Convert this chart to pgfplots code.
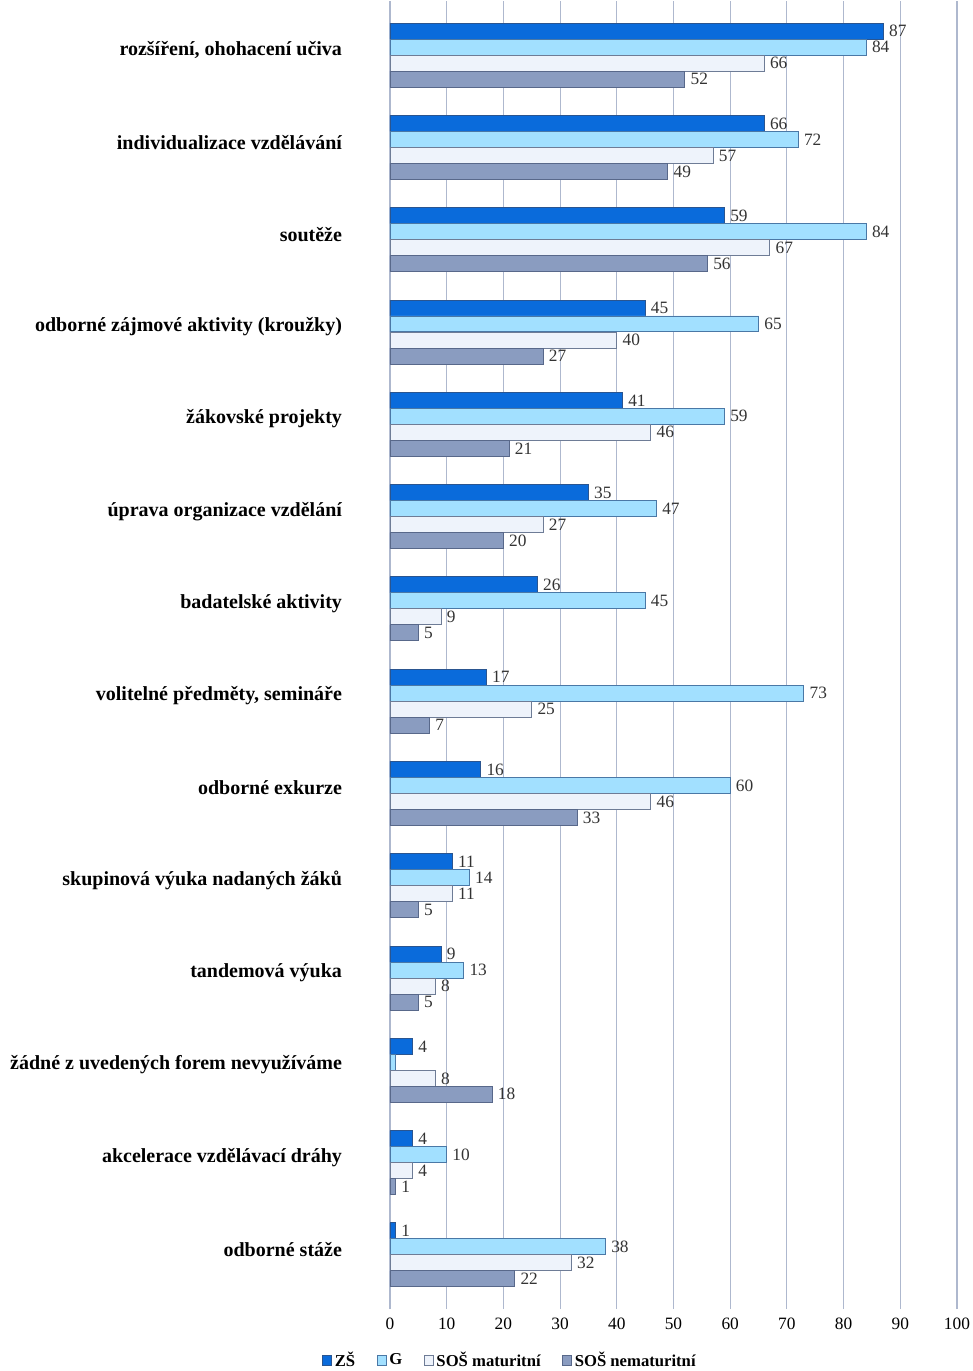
\documentclass[border=0pt]{standalone}
\usepackage{fontspec}
\setmainfont{Liberation Serif}
\usepackage{pgfplots}
\usepackage{pgfplotstable}
\pgfplotsset{compat=1.18}
\definecolor{czs}{HTML}{0A6BDB}
\definecolor{czsd}{HTML}{2A5590}
\definecolor{cg}{HTML}{A2E0FF}
\definecolor{cgd}{HTML}{4A78A6}
\definecolor{cm}{HTML}{EEF3FB}
\definecolor{cmd}{HTML}{6E7C96}
\definecolor{cn}{HTML}{8A9CC0}
\definecolor{cnd}{HTML}{58688A}
\definecolor{gridc}{HTML}{AEB8CE}
\pgfplotstableread{
y x l
0 87 87
1 66 66
2 59 59
3 45 45
4 41 41
5 35 35
6 26 26
7 17 17
8 16 16
9 11 11
10 9 9
11 4 4
12 4 4
13 1 1
}\zs
\pgfplotstableread{
y x l
0 84 84
1 72 72
2 84 84
3 65 65
4 59 59
5 47 47
6 45 45
7 73 73
8 60 60
9 14 14
10 13 13
11 1 {}
12 10 10
13 38 38
}\gy
\pgfplotstableread{
y x l
0 66 66
1 57 57
2 67 67
3 40 40
4 46 46
5 27 27
6 9 9
7 25 25
8 46 46
9 11 11
10 8 8
11 8 8
12 4 4
13 32 32
}\sm
\pgfplotstableread{
y x l
0 52 52
1 49 49
2 56 56
3 27 27
4 21 21
5 20 20
6 5 5
7 7 7
8 33 33
9 5 5
10 5 5
11 18 18
12 1 1
13 22 22
}\sn
\begin{document}
\begin{tikzpicture}
\begin{axis}[
  name=ax,
  xbar,
  scale only axis,
  width=425.25pt, height=969pt,
  xmin=0, xmax=100,
  ymin=-0.5, ymax=13.5,
  y dir=reverse,
  xtick={0,10,...,100},
  ytick={0,...,13},
  yticklabels={{rozšíření, ohohacení učiva},{individualizace vzdělávání},{soutěže},{odborné zájmové aktivity (kroužky)},{žákovské projekty},{úprava organizace vzdělání},{badatelské aktivity},{volitelné předměty, semináře},{odborné exkurze},{skupinová výuka nadaných žáků},{tandemová výuka},{žádné z uvedených forem nevyužíváme},{akcelerace vzdělávací dráhy},{odborné stáže}},
  yticklabel style={font=\bfseries\fontsize{15}{18}\selectfont, anchor=east, xshift=-26.5pt, yshift=4pt},
  xticklabel style={font=\fontsize{13}{15}\selectfont, yshift=-3pt},
  /pgf/number format/assume math mode=true,
  axis line style={draw=none},
  ytick style={draw=none},
  xtick style={draw=gridc, line width=0.8pt},
  xtick align=outside,
  major tick length=6pt,
  xmajorgrids,
  major grid style={draw=gridc, line width=0.8pt},
  bar width=0.173,
  nodes near coords,
  point meta=explicit symbolic,
  every node near coord/.append style={font=\fontsize{13}{15}\selectfont, text=black!80, anchor=west, inner sep=2pt, xshift=2pt},
  legend columns=4,
  legend style={draw=none, fill=none, at={(0.212,-0.046)}, anchor=center, font=\bfseries\fontsize{12.5}{14}\selectfont, /tikz/every even column/.append style={column sep=14pt}},
  legend image code/.code={\draw[#1, line width=0.6pt] (0pt,-3.5pt) rectangle (7pt,3.5pt);},
]
\addplot[bar shift=-0.26, fill=czs, draw=czsd, line width=0.7pt] table[x=x, y=y, meta=l] {\zs};
\addplot[bar shift=-0.087, fill=cg, draw=cgd, line width=0.7pt] table[x=x, y=y, meta=l] {\gy};
\addplot[bar shift=0.087, fill=cm, draw=cmd, line width=0.7pt] table[x=x, y=y, meta=l] {\sm};
\addplot[bar shift=0.26, fill=cn, draw=cnd, line width=0.7pt] table[x=x, y=y, meta=l] {\sn};
\legend{ZŠ, G, SOŠ maturitní, SOŠ nematuritní}
\end{axis}
\pgfresetboundingbox
\path[use as bounding box] ([xshift=-292.5pt, yshift=-52.5pt]ax.south west) rectangle ([xshift=12pt, yshift=6.75pt]ax.north east);
\end{tikzpicture}
\end{document}
